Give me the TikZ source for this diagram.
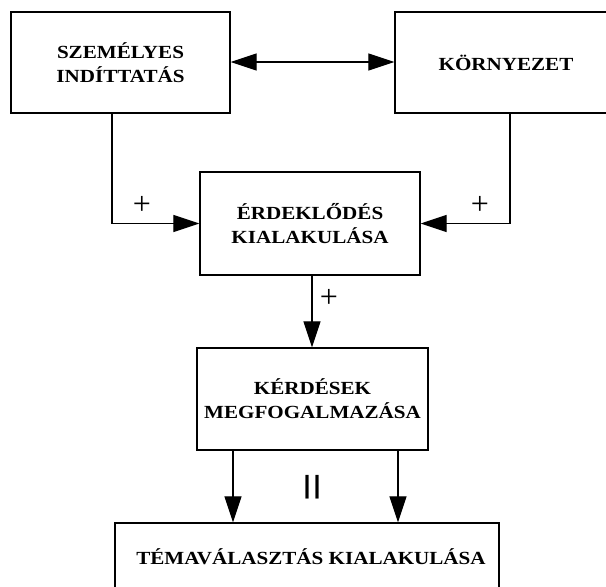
\documentclass[tikz,border=0pt]{standalone}
\usepackage{fontspec}
\setmainfont{Liberation Serif}
\newfontfamily\boxfont{Liberation Serif}[FakeStretch=1.14]
\newfontfamily\barfont{Liberation Sans}
\usetikzlibrary{arrows.meta}
\begin{document}
\begin{tikzpicture}[x=1pt,y=-1pt,
  box/.style={draw,line width=1.4pt,inner sep=0pt,align=center,
    font=\boxfont\bfseries\fontsize{18.5}{24}\selectfont},
  arr/.style={line width=1.3pt,-{Triangle[length=26pt,width=17pt]}},
  darr/.style={line width=1.3pt,{Triangle[length=26pt,width=17pt]}-{Triangle[length=26pt,width=17pt]}},
  sign/.style={inner sep=0pt,font=\fontsize{32}{32}\selectfont}]
\useasboundingbox (0,0) rectangle (606,587);
\clip (0,0) rectangle (606,587);
\node[box,minimum width=219pt,minimum height=101pt] (b1) at (120.5,62.5) {SZEMÉLYES\\INDÍTTATÁS};
\node[box,minimum width=222pt,minimum height=101pt] (b2) at (506,62.5) {KÖRNYEZET};
\node[box,minimum width=220pt,minimum height=103pt] (b3) at (310,223.5) {ÉRDEKLŐDÉS\\KIALAKULÁSA};
\node[box,minimum width=231pt,minimum height=102pt] (b4) at (312.5,399) {KÉRDÉSEK\\MEGFOGALMAZÁSA};
\node[box,minimum width=384pt,minimum height=68pt] (b5) at (307,557) {\hspace*{8pt}TÉMAVÁLASZTÁS KIALAKULÁSA};
\coordinate (c1) at (112,0);
\coordinate (c2) at (510,0);
\coordinate (c3) at (312,0);
\coordinate (c4) at (233,0);
\coordinate (c5) at (398,0);
\draw[darr] (b1.east |- 0,62) -- (b2.west |- 0,62);
\draw[arr] (b1.south -| c1) |- (b3.west);
\draw[arr] (b2.south -| c2) |- (b3.east);
\draw[arr] (b3.south -| c3) -- (b4.north -| c3);
\draw[arr] (b4.south -| c4) -- (b5.north -| c4);
\draw[arr] (b4.south -| c5) -- (b5.north -| c5);
\node[sign] (p1) at (142,205) {+};
\node[sign] (p2) at (480,205) {+};
\node[sign] (p3) at (329,298) {+};
\node[inner sep=0pt,font=\barfont\bfseries\fontsize{25}{25}\selectfont] (eq) at (312,487) {|\hspace{3pt}|};
\end{tikzpicture}
\end{document}
